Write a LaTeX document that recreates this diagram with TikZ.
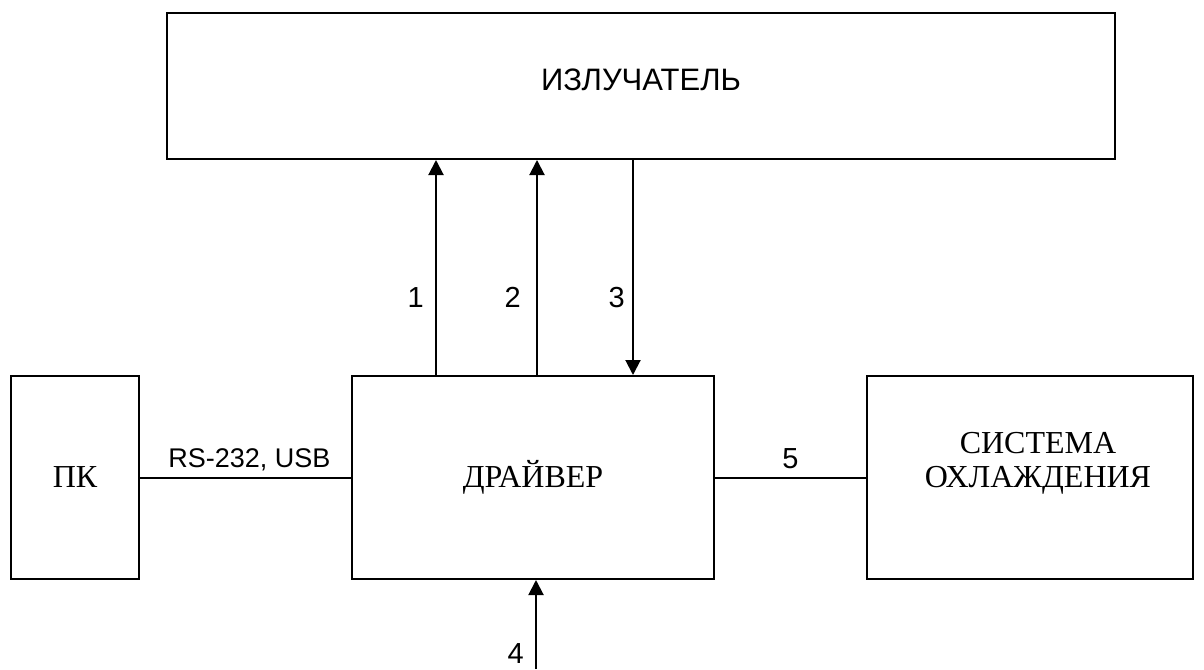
\documentclass[tikz,border=0pt]{standalone}
\usepackage{fontspec}
\setmainfont{Liberation Serif}
\newfontfamily\arialfont{Liberation Sans}
\usetikzlibrary{positioning,arrows.meta}

\tikzset{
  block/.style={draw, line width=2pt, inner sep=0pt, anchor=north west, align=center},
  link/.style={line width=2pt},
  sig/.style={link, -{Triangle[width=15pt,length=15pt]}},
  lbl/.style={font=\arialfont\fontsize{29}{34}\selectfont},
  serifname/.style={font=\fontsize{32}{34}\selectfont, align=center}
}

\begin{document}
\begin{tikzpicture}[x=1pt, y=-1pt]
        \useasboundingbox (0,0) rectangle (1204,669);
        \node (emit) [block, minimum width=948pt, minimum height=146pt] at (166,12) {};
        \node (emitname) [font=\arialfont\fontsize{31}{36}\selectfont] at ([yshift=6pt]emit.center) {ИЗЛУЧАТЕЛЬ};
        \node (pc) [block, minimum width=128pt, minimum height=203pt, serifname] at (10,375) {ПК};
        \node (drv) [block, minimum width=362pt, minimum height=203pt, serifname] at (351,375) {ДРАЙВЕР};
        \node (cool) [block, minimum width=326pt, minimum height=203pt] at (866,375) {};
        \node (coolname) [serifname] at ([xshift=8pt, yshift=14pt]cool.center) {СИСТЕМА\\ОХЛАЖДЕНИЯ};
        \coordinate (in4) at (536,669);
        % driver <-> emitter
        \draw [sig] (drv.north west -| 436,0) -- (emit.south west -| 436,0) node [lbl, pos=0.36, left=8pt] {1};
        \draw [sig] (drv.north west -| 537,0) -- (emit.south west -| 537,0) node [lbl, pos=0.36, left=12pt] {2};
        \draw [sig] (emit.south west -| 633,0) -- (drv.north west -| 633,0) node [lbl, pos=0.64, left=4pt] {3};
        % external input
        \draw [sig] (in4) -- (in4 |- drv.south) node [lbl, pos=0.17, left=8pt] {4};
        % side links
        \draw [link] (pc) -- (drv) node [midway, above=2pt, xshift=4pt, font=\arialfont\fontsize{27}{30}\selectfont] {RS-232, USB};
        \draw [link] (drv) -- (cool) node [lbl, midway, above=4pt] {5};
    \end{tikzpicture}
\end{document}
